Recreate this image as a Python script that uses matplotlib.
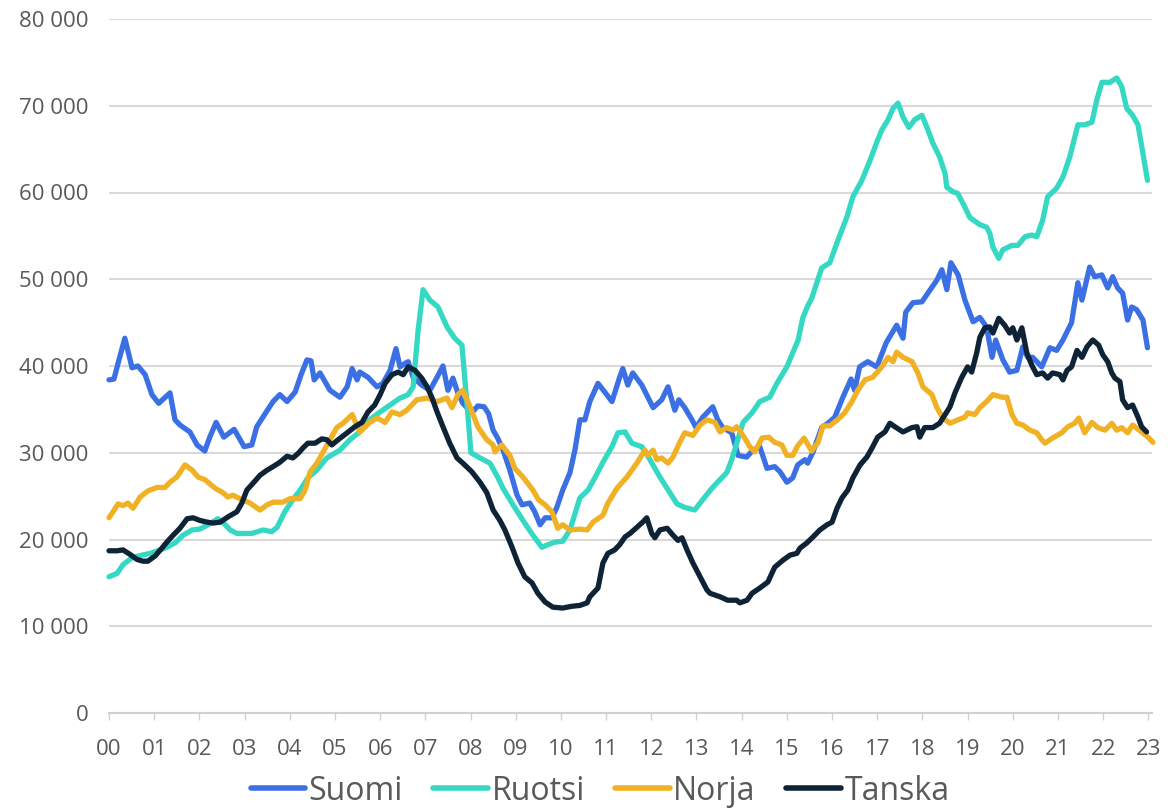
import matplotlib
matplotlib.use("Agg")
import matplotlib.pyplot as plt
from matplotlib.ticker import FuncFormatter

# ---- data (x = years since Jan 2000) ----
suomi_t = [0.00, 0.11, 0.20, 0.35, 0.51, 0.64, 0.80, 0.95, 1.10, 1.35, 1.46, 1.57, 1.68, 1.79, 1.95,
           2.12, 2.23, 2.37, 2.54, 2.77, 2.99, 3.16, 3.27, 3.43, 3.63, 3.78, 3.94, 4.12, 4.25, 4.38,
           4.47, 4.54, 4.67, 4.89, 5.11, 5.27, 5.38, 5.49, 5.55, 5.73, 5.93, 6.06, 6.22, 6.35, 6.44,
           6.55, 6.62, 6.73, 6.92, 7.10, 7.26, 7.39, 7.50, 7.61, 7.72, 7.83, 8.03, 8.16, 8.30, 8.40,
           8.50, 8.60, 8.72, 8.87, 9.03, 9.14, 9.31, 9.42, 9.54, 9.65, 9.80, 9.91, 10.04, 10.20, 10.31,
           10.42, 10.53, 10.64, 10.82, 10.97, 11.13, 11.30, 11.37, 11.48, 11.59, 11.79, 12.04, 12.23,
           12.37, 12.52, 12.61, 12.74, 12.90, 12.99, 13.14, 13.36, 13.47, 13.58, 13.78, 13.92, 14.11,
           14.25, 14.40, 14.56, 14.73, 14.85, 15.00, 15.13, 15.24, 15.40, 15.46, 15.58, 15.77, 15.91,
           16.06, 16.24, 16.42, 16.50, 16.61, 16.79, 16.99, 17.20, 17.43, 17.57, 17.63, 17.79, 17.99,
           18.12, 18.32, 18.43, 18.54, 18.63, 18.79, 18.94, 19.12, 19.27, 19.42, 19.54, 19.62, 19.78,
           19.93, 20.09, 20.22, 20.33, 20.44, 20.64, 20.82, 20.97, 21.11, 21.30, 21.44, 21.53, 21.70,
           21.81, 21.97, 22.10, 22.21, 22.32, 22.43, 22.54, 22.63, 22.74, 22.88, 22.98]
suomi_v = [38400, 38500, 40300, 43200, 39800, 40000, 39000, 36700, 35700, 36900, 33800, 33200, 32800, 32400, 30900,
           30200, 31800, 33500, 31800, 32700, 30700, 30900, 33000, 34300, 35900, 36700, 35900, 37000, 39000, 40700,
           40600, 38400, 39200, 37200, 36400, 37600, 39700, 38400, 39300, 38700, 37600, 38000, 39500, 42000, 39900,
           40300, 40500, 38700, 37800, 37200, 38700, 40000, 37200, 38600, 36900, 35700, 34600, 35400, 35300, 34500,
           32600, 31700, 30300, 28000, 25100, 24000, 24200, 23200, 21700, 22500, 22500, 23700, 25700, 27700, 30300,
           33800, 33800, 35900, 38000, 37000, 35900, 38700, 39700, 37800, 39200, 37800, 35200, 36100,
           37600, 34900, 36100, 35200, 33800, 32900, 34100, 35300, 33800, 32900, 32300, 29700, 29500,
           30300, 30700, 28200, 28400, 27800, 26600, 27100, 28600, 29200, 28800, 30100, 32900, 33400,
           34100, 36400, 38500, 37200, 39900, 40500, 39900, 42700, 44700, 43200, 46200, 47300, 47400,
           48400, 49900, 51100, 48800, 51900, 50500, 47600, 45100, 45600, 44500, 41000, 43000, 40700,
           39300, 39500, 42200, 41000, 41000, 39900, 42100, 41800, 43000, 45000, 49600, 47600, 51400,
           50300, 50500, 49000, 50300, 49000, 48400, 45300, 46800, 46500, 45300, 42100]

ruotsi_t = [0.00, 0.18, 0.31, 0.51, 0.73, 0.91, 1.08, 1.28, 1.46, 1.64, 1.84, 2.01, 2.19, 2.41, 2.52,
            2.68, 2.83, 3.16, 3.41, 3.60, 3.72, 3.89, 4.07, 4.23, 4.40, 4.60, 4.82, 5.11, 5.33, 5.55,
            5.77, 6.00, 6.22, 6.44, 6.62, 6.73, 6.84, 6.95, 7.10, 7.28, 7.48, 7.65, 7.81, 7.92, 8.01,
            8.21, 8.43, 8.60, 8.72, 8.94, 9.16, 9.38, 9.58, 9.71, 9.87, 10.04, 10.20, 10.42, 10.60,
            10.75, 10.93, 11.13, 11.26, 11.42, 11.57, 11.79, 11.97, 12.19, 12.41, 12.57, 12.74, 12.96,
            13.14, 13.34, 13.52, 13.67, 13.78, 13.89, 14.03, 14.23, 14.40, 14.62, 14.78, 15.00, 15.13,
            15.25, 15.35, 15.45, 15.55, 15.77, 15.95, 16.13, 16.33, 16.46, 16.66, 16.84, 16.99, 17.10,
            17.24, 17.35, 17.46, 17.57, 17.70, 17.83, 17.99, 18.10, 18.23, 18.38, 18.50, 18.54, 18.67,
            18.78, 18.94, 19.05, 19.27, 19.42, 19.49, 19.56, 19.69, 19.78, 19.98, 20.11, 20.27, 20.42,
            20.53, 20.66, 20.77, 20.97, 21.11, 21.26, 21.44, 21.59, 21.75, 21.86, 21.97, 22.15, 22.30,
            22.41, 22.52, 22.65, 22.77, 22.85, 22.98]
ruotsi_v = [15700, 16100, 17100, 17900, 18200, 18400, 18700, 19100, 19600, 20500, 21100, 21200, 21700, 22400, 22000,
            21100, 20700, 20700, 21100, 20900, 21400, 23200, 24600, 25700, 27100, 28000, 29400, 30300, 31500, 32400,
            33800, 34700, 35500, 36300, 36700, 37600, 44100, 48800, 47600, 46800, 44500, 43200, 42400, 35700, 30000,
            29400, 28800, 27200, 25900, 24000, 22200, 20500, 19100, 19400, 19700, 19800, 21100, 24800, 25700,
            27100, 28900, 30700, 32300, 32400, 31100, 30700, 29200, 27200, 25400, 24100, 23700, 23400,
            24600, 25900, 26900, 27700, 29200, 31100, 33500, 34600, 35900, 36400, 38000, 39900, 41500,
            43000, 45500, 46800, 47800, 51300, 51900, 54500, 57200, 59500, 61400, 63700, 65800, 67200,
            68400, 69700, 70300, 68700, 67500, 68400, 68900, 67500, 65700, 64100, 62200, 60600, 60100,
            59900, 58300, 57100, 56300, 56000, 55300, 53700, 52400, 53400, 53900, 53900, 54900, 55100,
            54900, 56800, 59500, 60500, 61800, 64100, 67800, 67800, 68100, 70700, 72700, 72700, 73200,
            72200, 69700, 68900, 67800, 65400, 61400]

norja_t = [0.00, 0.09, 0.20, 0.31, 0.42, 0.53, 0.69, 0.86, 1.06, 1.24, 1.35, 1.50, 1.68, 1.84, 1.97,
           2.12, 2.35, 2.52, 2.63, 2.74, 2.90, 3.12, 3.34, 3.50, 3.63, 3.85, 4.00, 4.23, 4.34, 4.45,
           4.60, 4.73, 4.89, 5.04, 5.18, 5.38, 5.55, 5.77, 5.93, 6.11, 6.26, 6.44, 6.59, 6.81, 7.04,
           7.26, 7.48, 7.59, 7.72, 7.83, 7.99, 8.16, 8.36, 8.50, 8.54, 8.69, 8.87, 8.98, 9.16, 9.38,
           9.50, 9.65, 9.80, 9.93, 10.04, 10.20, 10.42, 10.58, 10.71, 10.93, 11.04, 11.24, 11.46, 11.68,
           11.86, 11.92, 12.04, 12.12, 12.23, 12.37, 12.48, 12.63, 12.74, 12.92, 13.08, 13.23, 13.41,
           13.52, 13.67, 13.81, 13.89, 14.03, 14.18, 14.29, 14.45, 14.60, 14.73, 14.89, 15.00, 15.13,
           15.24, 15.38, 15.55, 15.69, 15.80, 15.95, 16.12, 16.28, 16.44, 16.57, 16.73, 16.90, 17.10,
           17.24, 17.35, 17.43, 17.57, 17.77, 17.90, 18.01, 18.21, 18.32, 18.45, 18.61, 18.79, 18.94,
           19.00, 19.16, 19.27, 19.42, 19.56, 19.76, 19.87, 19.98, 20.09, 20.22, 20.38, 20.53, 20.64,
           20.71, 20.88, 21.08, 21.22, 21.37, 21.46, 21.59, 21.75, 21.88, 22.04, 22.19, 22.30, 22.41,
           22.54, 22.65, 22.85, 22.99, 23.10]
norja_v = [22500, 23200, 24100, 23900, 24200, 23600, 24900, 25600, 26000, 26000, 26600, 27200, 28600, 28000, 27200,
           26900, 25900, 25400, 24900, 25100, 24700, 24200, 23400, 24000, 24300, 24300, 24700, 24700, 25700, 27800,
           28800, 30000, 31500, 32900, 33400, 34400, 32400, 33500, 34000, 33500, 34700, 34400, 34900, 36100, 36300,
           35900, 36300, 35200, 36700, 37200, 35300, 33000, 31500, 30900, 30100, 30900, 29700, 28200, 27200, 25700,
           24600, 24000, 23200, 21300, 21700, 21100, 21200, 21100, 22000, 22800, 24200, 25900, 27200, 28800,
           30300, 29700, 30300, 29200, 29400, 28800, 29500, 31200, 32300, 32000, 33200, 33800, 33500,
           32400, 32900, 32600, 33000, 32000, 30700, 30100, 31700, 31800, 31200, 30900, 29700, 29700,
           30800, 31700, 30200, 31200, 33100, 33100, 33800, 34600, 35900, 37200, 38400, 38700, 39900,
           41000, 40500, 41600, 41000, 40500, 39200, 37600, 36700, 35200, 34000, 33400, 33800, 34100,
           34600, 34400, 35200, 35900, 36700, 36400, 36400, 34400, 33400, 33200, 32600, 32300, 31500,
           31100, 31700, 32300, 33000, 33400, 34000, 32300, 33500, 32900, 32600, 33400, 32600, 32900,
           32300, 33200, 32400, 31800, 31200]

tanska_t = [0.00, 0.18, 0.31, 0.46, 0.62, 0.75, 0.86, 1.02, 1.17, 1.28, 1.42, 1.57, 1.73, 1.86, 2.01,
            2.17, 2.30, 2.46, 2.63, 2.83, 2.94, 3.05, 3.19, 3.34, 3.50, 3.63, 3.78, 3.94, 4.07, 4.20,
            4.30, 4.40, 4.56, 4.71, 4.82, 4.93, 5.07, 5.27, 5.44, 5.60, 5.73, 5.88, 6.00, 6.11, 6.26,
            6.40, 6.51, 6.62, 6.77, 6.92, 7.04, 7.15, 7.26, 7.39, 7.54, 7.70, 7.83, 8.03, 8.21, 8.36,
            8.50, 8.65, 8.76, 8.92, 9.05, 9.20, 9.36, 9.49, 9.65, 9.82, 10.04, 10.24, 10.42, 10.58,
            10.64, 10.82, 10.93, 11.04, 11.19, 11.30, 11.42, 11.53, 11.68, 11.81, 11.90, 12.01, 12.08,
            12.19, 12.35, 12.48, 12.59, 12.68, 12.79, 12.92, 13.08, 13.23, 13.30, 13.52, 13.69, 13.89,
            13.96, 14.12, 14.23, 14.40, 14.58, 14.73, 14.91, 15.07, 15.22, 15.29, 15.44, 15.58, 15.73,
            15.89, 16.00, 16.11, 16.22, 16.35, 16.46, 16.62, 16.77, 16.88, 17.01, 17.17, 17.28, 17.39,
            17.57, 17.77, 17.88, 17.94, 18.05, 18.23, 18.38, 18.50, 18.61, 18.72, 18.87, 19.00, 19.09,
            19.20, 19.27, 19.38, 19.49, 19.56, 19.69, 19.82, 19.93, 20.00, 20.09, 20.20, 20.31, 20.42,
            20.53, 20.66, 20.77, 20.88, 21.04, 21.11, 21.20, 21.30, 21.42, 21.53, 21.64, 21.77, 21.90,
            21.99, 22.10, 22.19, 22.26, 22.37, 22.43, 22.54, 22.65, 22.77, 22.85, 22.96]
tanska_v = [18700, 18700, 18800, 18300, 17700, 17500, 17500, 18100, 19000, 19700, 20500, 21300, 22400, 22500, 22200,
            22000, 21900, 22000, 22600, 23200, 24200, 25700, 26500, 27400, 28000, 28400, 28900, 29600, 29400, 30000,
            30600, 31100, 31100, 31600, 31500, 30900, 31500, 32300, 33000, 33500, 34700, 35500, 36700, 38000, 39000,
            39300, 39000, 39900, 39500, 38600, 37600, 36300, 34700, 33000, 31100, 29400, 28800, 27800, 26600, 25400,
            23400, 22200, 21100, 19100, 17300, 15700, 15000, 13800, 12800, 12200, 12100, 12300, 12400, 12700,
            13400, 14400, 17300, 18400, 18800, 19400, 20300, 20700, 21400, 22000, 22500, 20700, 20200,
            21100, 21300, 20500, 19900, 20200, 18800, 17300, 15700, 14200, 13800, 13400, 13000, 13000,
            12700, 13000, 13800, 14400, 15100, 16800, 17600, 18200, 18400, 19000, 19600, 20300, 21100,
            21700, 22000, 23600, 24800, 25700, 27100, 28600, 29500, 30500, 31800, 32400, 33400, 33000,
            32400, 32900, 33000, 31800, 32900, 32900, 33400, 34400, 35300, 36900, 38700, 39900, 39300,
            41500, 43300, 44400, 44500, 43800, 45500, 44700, 43800, 44400, 43000, 44400, 41500, 40100,
            39000, 39200, 38600, 39200, 39000, 38400, 39500, 39900, 41800, 41000, 42200, 43000, 42400,
            41300, 40500, 39200, 38600, 38200, 36100, 35200, 35500, 34100, 33000, 32400]

series_names = ["Suomi", "Ruotsi", "Norja", "Tanska"]
series_colors = ["#3a70e3", "#34d8c3", "#f0b125", "#0f2337"]
year_labels = ["%02d" % y for y in range(0, 24)]
y_ticks = [0, 10000, 20000, 30000, 40000, 50000, 60000, 70000, 80000]

# ---- figure ----
plt.rcParams["font.family"] = ["Open Sans", "DejaVu Sans"]
fig = plt.figure(figsize=(11.68, 8.09), dpi=100)
ax = fig.add_axes([109 / 1168, 96 / 809, 1043 / 1168, 694 / 809])

text_color = "#595959"
series = [(suomi_t, suomi_v), (ruotsi_t, ruotsi_v), (norja_t, norja_v), (tanska_t, tanska_v)]
for (t, v), name, col in zip(series, series_names, series_colors):
    ax.plot(t, v, color=col, lw=3.8, label=name, solid_capstyle="round",
            solid_joinstyle="round", clip_on=False, zorder=3)

ax.set_ylim(0, 80000)
ax.set_xlim(0, 23.08)
ax.set_yticks(y_ticks)
ax.yaxis.set_major_formatter(FuncFormatter(lambda v, p: "0" if v == 0 else f"{int(v):,}".replace(",", " ")))
ax.set_xticks(range(0, 24))
ax.set_xticklabels(year_labels)

ax.grid(axis="y", color="#d9d9d9", lw=1.5, zorder=0)
ax.set_axisbelow(True)
for s in ["top", "right", "left"]:
    ax.spines[s].set_visible(False)
ax.spines["bottom"].set_color("#d0d0d0")
ax.spines["bottom"].set_linewidth(1.5)
ax.spines["bottom"].set_zorder(1)

ax.tick_params(axis="y", length=0, pad=15, labelsize=16, labelcolor=text_color)
ax.tick_params(axis="x", direction="out", length=5, width=1, color="#d0d0d0",
               pad=14, labelsize=16, labelcolor=text_color)

leg = fig.legend(loc="center", bbox_to_anchor=(600 / 1168, 1 - 791 / 809), ncol=4, frameon=False,
                 fontsize=23, handlelength=1.7, handletextpad=0.12, columnspacing=0.95,
                 borderaxespad=0)
for txt in leg.get_texts():
    txt.set_color(text_color)
for line in leg.get_lines():
    line.set_linewidth(4)
    line.set_solid_capstyle("round")

fig.savefig("out.png", dpi=100)
